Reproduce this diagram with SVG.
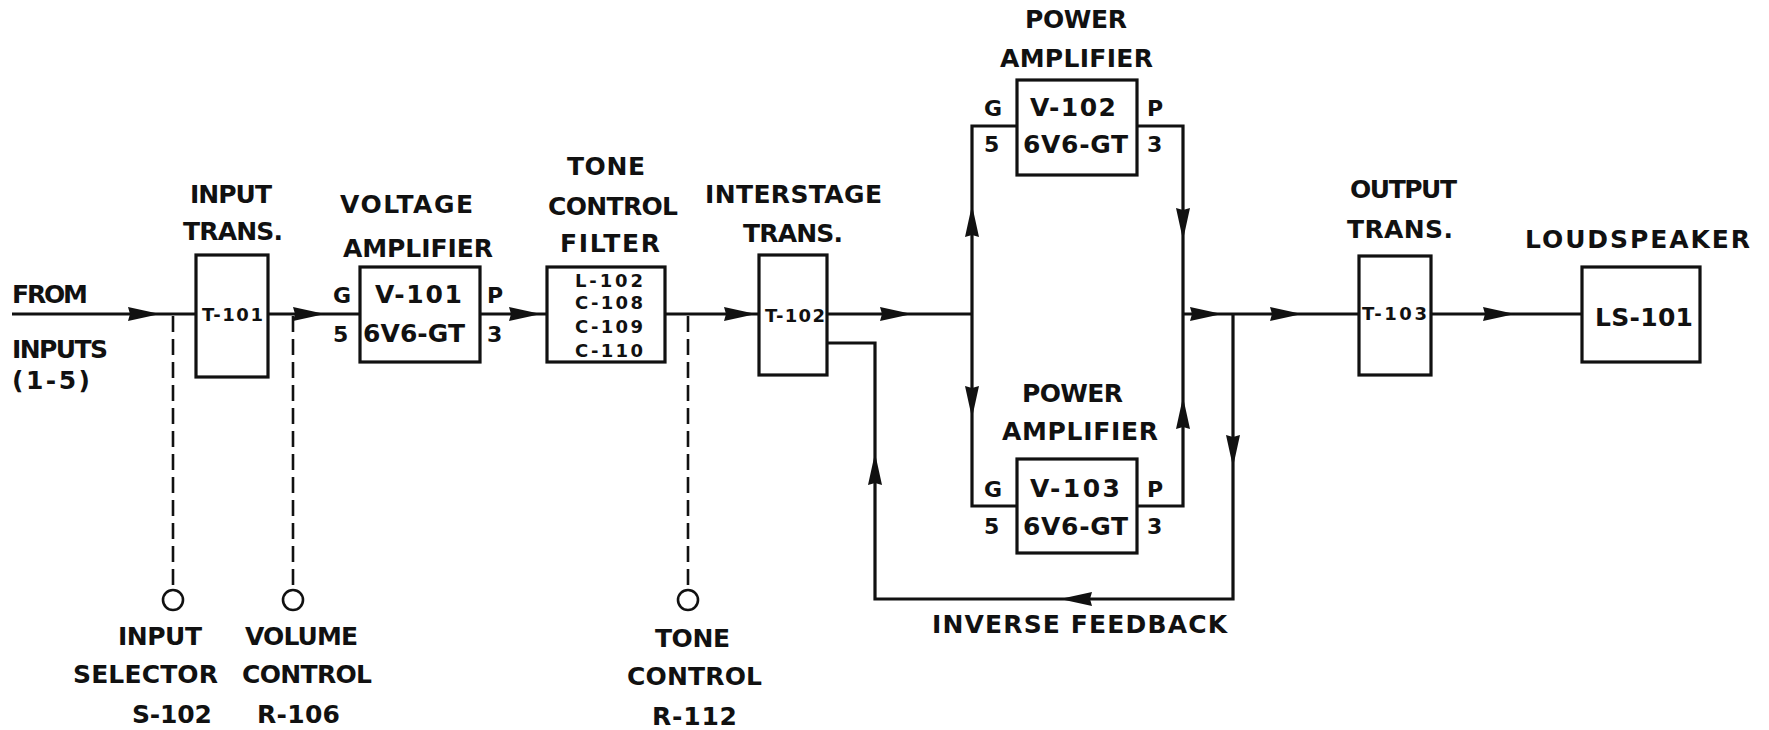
<svg xmlns="http://www.w3.org/2000/svg" xmlns:xlink="http://www.w3.org/1999/xlink" width="1769" height="730" viewBox="0 0 1769 730">
<style>
  .box{fill:#fff;stroke:#111;stroke-width:3.2}
  .ln{fill:none;stroke:#111;stroke-width:3.2;stroke-linejoin:miter}
  .dash{fill:none;stroke:#111;stroke-width:2.6;stroke-dasharray:16 7}
  .knob{fill:#fff;stroke:#111;stroke-width:2.6}
  text{font-family:"DejaVu Sans","Liberation Sans",sans-serif;font-weight:bold;fill:#111}
  .lb{font-size:25px}
  .sm{font-size:18px}
  .md{font-size:18px}
  .pin{font-size:22px}
</style>
<defs>
  <path id="ah" d="M0,0 L-32,-7 L-30,0 L-32,7 Z" fill="#111"/>
</defs>
<rect width="1769" height="730" fill="#fff"/>

<g id="connectors">
  <path class="ln" d="M12,314 H196"/>
  <path class="ln" d="M268,314 H360"/>
  <path class="ln" d="M480,314 H547"/>
  <path class="ln" d="M665,314 H759"/>
  <path class="ln" d="M827,314 H972"/>
  <path class="ln" d="M1017,126 H972 V506 H1017"/>
  <path class="ln" d="M1137,126 H1183 V506 H1137"/>
  <path class="ln" d="M1183,314 H1359"/>
  <path class="ln" d="M1431,314 H1582"/>
  <path class="ln" d="M1233,314 V599 H875 V343 H827"/>
  <path class="dash" d="M173,316 V590"/>
  <path class="dash" d="M293,316 V590"/>
  <path class="dash" d="M688,316 V590"/>
  <circle class="knob" cx="173" cy="600" r="10"/>
  <circle class="knob" cx="293" cy="600" r="10"/>
  <circle class="knob" cx="688" cy="600" r="10"/>
  <use xlink:href="#ah" transform="translate(160,314)"/>
  <use xlink:href="#ah" transform="translate(325,314)"/>
  <use xlink:href="#ah" transform="translate(541,314)"/>
  <use xlink:href="#ah" transform="translate(756,314)"/>
  <use xlink:href="#ah" transform="translate(912,314)"/>
  <use xlink:href="#ah" transform="translate(972,205) rotate(-90)"/>
  <use xlink:href="#ah" transform="translate(972,418) rotate(90)"/>
  <use xlink:href="#ah" transform="translate(1183,240) rotate(90)"/>
  <use xlink:href="#ah" transform="translate(1183,397) rotate(-90)"/>
  <use xlink:href="#ah" transform="translate(1222,314)"/>
  <use xlink:href="#ah" transform="translate(1302,314)"/>
  <use xlink:href="#ah" transform="translate(1515,314)"/>
  <use xlink:href="#ah" transform="translate(1233,467) rotate(90)"/>
  <use xlink:href="#ah" transform="translate(1060,599) rotate(180)"/>
  <use xlink:href="#ah" transform="translate(875,453) rotate(-90)"/>
</g>

<g id="from-inputs">
  <text class="lb" x="12" y="303" textLength="76">FROM</text>
  <text class="lb" x="12" y="358" textLength="96">INPUTS</text>
  <text class="lb" x="12" y="389" textLength="78">(1-5)</text>
</g>

<g id="input-trans">
  <text class="lb" x="190" y="203" textLength="82">INPUT</text>
  <text class="lb" x="183" y="240" textLength="100">TRANS.</text>
  <rect class="box" x="196" y="255" width="72" height="122"/>
  <text class="sm" x="202" y="321" textLength="61">T-101</text>
</g>

<g id="input-selector">
  <text class="lb" x="118" y="645" textLength="84">INPUT</text>
  <text class="lb" x="73" y="683" textLength="145">SELECTOR</text>
  <text class="lb" x="132" y="723" textLength="80">S-102</text>
</g>

<g id="volume-control">
  <text class="lb" x="245" y="645" textLength="113">VOLUME</text>
  <text class="lb" x="242" y="683" textLength="130">CONTROL</text>
  <text class="lb" x="257" y="723" textLength="83">R-106</text>
</g>

<g id="voltage-amplifier">
  <text class="lb" x="340" y="213" textLength="133">VOLTAGE</text>
  <text class="lb" x="343" y="257" textLength="150">AMPLIFIER</text>
  <rect class="box" x="360" y="267" width="120" height="95"/>
  <text class="lb" x="375" y="303" textLength="87">V-101</text>
  <text class="lb" x="363" y="342" textLength="102">6V6-GT</text>
  <text class="pin" x="333" y="303">G</text>
  <text class="pin" x="333" y="342">5</text>
  <text class="pin" x="487" y="303">P</text>
  <text class="pin" x="487" y="342">3</text>
</g>

<g id="tone-filter">
  <text class="lb" x="567" y="175" textLength="78">TONE</text>
  <text class="lb" x="548" y="215" textLength="130">CONTROL</text>
  <text class="lb" x="560" y="252" textLength="100">FILTER</text>
  <rect class="box" x="547" y="267" width="118" height="95"/>
  <text class="md" x="575" y="287" textLength="68">L-102</text>
  <text class="md" x="575" y="309" textLength="68">C-108</text>
  <text class="md" x="575" y="333" textLength="68">C-109</text>
  <text class="md" x="575" y="357" textLength="68">C-110</text>
</g>

<g id="tone-control">
  <text class="lb" x="655" y="647" textLength="75">TONE</text>
  <text class="lb" x="627" y="685" textLength="135">CONTROL</text>
  <text class="lb" x="652" y="725" textLength="85">R-112</text>
</g>

<g id="interstage-trans">
  <text class="lb" x="705" y="203" textLength="177">INTERSTAGE</text>
  <text class="lb" x="743" y="242" textLength="100">TRANS.</text>
  <rect class="box" x="759" y="255" width="68" height="120"/>
  <text class="sm" x="765" y="322" textLength="60">T-102</text>
</g>

<g id="power-amp-1">
  <text class="lb" x="1025" y="28" textLength="102">POWER</text>
  <text class="lb" x="1000" y="67" textLength="153">AMPLIFIER</text>
  <rect class="box" x="1017" y="80" width="120" height="95"/>
  <text class="lb" x="1030" y="116" textLength="86">V-102</text>
  <text class="lb" x="1023" y="153" textLength="105">6V6-GT</text>
  <text class="pin" x="984" y="116">G</text>
  <text class="pin" x="984" y="152">5</text>
  <text class="pin" x="1147" y="116">P</text>
  <text class="pin" x="1147" y="152">3</text>
</g>

<g id="power-amp-2">
  <text class="lb" x="1022" y="402" textLength="101">POWER</text>
  <text class="lb" x="1002" y="440" textLength="156">AMPLIFIER</text>
  <rect class="box" x="1017" y="459" width="120" height="94"/>
  <text class="lb" x="1030" y="497" textLength="90">V-103</text>
  <text class="lb" x="1023" y="535" textLength="105">6V6-GT</text>
  <text class="pin" x="984" y="497">G</text>
  <text class="pin" x="984" y="534">5</text>
  <text class="pin" x="1147" y="497">P</text>
  <text class="pin" x="1147" y="534">3</text>
</g>

<g id="inverse-feedback">
  <text class="lb" x="932" y="633" textLength="295">INVERSE FEEDBACK</text>
</g>

<g id="output-trans">
  <text class="lb" x="1350" y="198" textLength="107">OUTPUT</text>
  <text class="lb" x="1347" y="238" textLength="106">TRANS.</text>
  <rect class="box" x="1359" y="256" width="72" height="119"/>
  <text class="sm" x="1362" y="320" textLength="65">T-103</text>
</g>

<g id="loudspeaker">
  <text class="lb" x="1525" y="248" textLength="225">LOUDSPEAKER</text>
  <rect class="box" x="1582" y="267" width="118" height="95"/>
  <text class="lb" x="1595" y="326" textLength="98">LS-101</text>
</g>
</svg>
